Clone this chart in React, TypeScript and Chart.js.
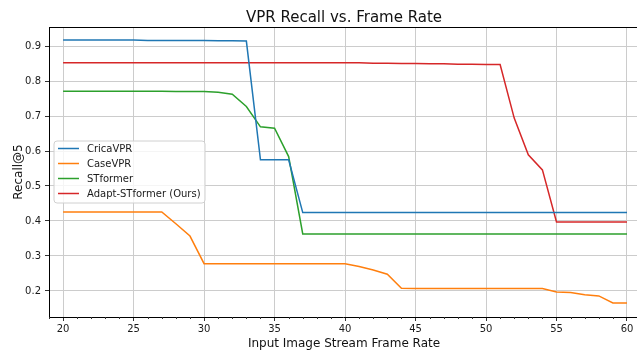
import React, { useEffect, useRef } from "react";
import { Chart, registerables } from "chart.js";

Chart.register(...registerables);

const frameRates = [
  20, 21, 22, 23, 24, 25, 26, 27, 28, 29, 30, 31, 32, 33, 34, 35, 36, 37, 38, 39, 40,
  41, 42, 43, 44, 45, 46, 47, 48, 49, 50, 51, 52, 53, 54, 55, 56, 57, 58, 59, 60,
];

const cricaVPR = [
  0.917, 0.917, 0.917, 0.917, 0.917, 0.917, 0.916, 0.916, 0.916, 0.916, 0.916, 0.915, 0.915, 0.914,
  0.575, 0.575, 0.575,
  0.424, 0.424, 0.424, 0.424, 0.424, 0.424, 0.424, 0.424, 0.424, 0.424, 0.424, 0.424,
  0.424, 0.424, 0.424, 0.424, 0.424, 0.424, 0.424, 0.424, 0.424, 0.424, 0.424, 0.424,
];

const caseVPR = [
  0.426, 0.426, 0.426, 0.426, 0.426, 0.426, 0.426, 0.426,
  0.392, 0.357,
  0.278, 0.278, 0.278, 0.278, 0.278, 0.278, 0.278, 0.278, 0.278, 0.278, 0.278,
  0.27, 0.26, 0.248, 0.208,
  0.207, 0.207, 0.207, 0.207, 0.207, 0.207, 0.207, 0.207, 0.207, 0.207,
  0.197, 0.196, 0.189, 0.186, 0.166, 0.166,
];

const stformer = [
  0.771, 0.771, 0.771, 0.771, 0.771, 0.771, 0.771, 0.771, 0.770, 0.770, 0.770,
  0.768, 0.762, 0.727, 0.669, 0.665, 0.584,
  0.363, 0.363, 0.363, 0.363, 0.363, 0.363, 0.363, 0.363, 0.363, 0.363, 0.363, 0.363,
  0.363, 0.363, 0.363, 0.363, 0.363, 0.363, 0.363, 0.363, 0.363, 0.363, 0.363, 0.363,
];

const adaptSTformer = [
  0.852, 0.852, 0.852, 0.852, 0.852, 0.852, 0.852, 0.852, 0.852, 0.852, 0.852,
  0.852, 0.852, 0.852, 0.852, 0.852, 0.852, 0.852, 0.852, 0.852, 0.852,
  0.852, 0.851, 0.851, 0.850, 0.850, 0.849, 0.849, 0.848, 0.848, 0.847, 0.847,
  0.694, 0.589, 0.546,
  0.397, 0.397, 0.397, 0.397, 0.397, 0.397,
];

const seriesNames = ["CricaVPR", "CaseVPR", "STformer", "Adapt-STformer (Ours)"];
const seriesColors = ["#1f77b4", "#ff7f0e", "#2ca02c", "#d62728"];
const seriesValues = [cricaVPR, caseVPR, stformer, adaptSTformer];

const xMajorTicks = [20, 25, 30, 35, 40, 45, 50, 55, 60];
const yTicks = [0.2, 0.3, 0.4, 0.5, 0.6, 0.7, 0.8, 0.9];

const titleText = "VPR Recall vs. Frame Rate";
const xLabel = "Input Image Stream Frame Rate";
const yLabel = "Recall@5";

const FONT = "'DejaVu Sans', sans-serif";

const decorPlugin = {
  id: "decor",
  afterDatasetsDraw(chart: any) {
    const ctx = chart.ctx;
    const area = chart.chartArea;
    const xs = chart.scales.x;
    ctx.save();
    // top spine
    ctx.strokeStyle = "#000";
    ctx.lineWidth = 1;
    ctx.beginPath();
    ctx.moveTo(area.left, area.top + 0.5);
    ctx.lineTo(area.right, area.top + 0.5);
    ctx.stroke();
    // minor ticks
    ctx.strokeStyle = "#333";
    for (let v = Math.ceil(xs.min); v <= xs.max; v++) {
      if (v % 5 === 0) continue;
      const px = Math.round(xs.getPixelForValue(v)) + 0.5;
      ctx.beginPath();
      ctx.moveTo(px, area.bottom);
      ctx.lineTo(px, area.bottom + 2);
      ctx.stroke();
    }
    // legend
    const bx = 54, by = 141, bw = 151, bh = 62, r = 3;
    ctx.fillStyle = "rgba(255,255,255,0.8)";
    ctx.strokeStyle = "#d0d0d0";
    ctx.beginPath();
    ctx.moveTo(bx + r, by);
    ctx.lineTo(bx + bw - r, by);
    ctx.quadraticCurveTo(bx + bw, by, bx + bw, by + r);
    ctx.lineTo(bx + bw, by + bh - r);
    ctx.quadraticCurveTo(bx + bw, by + bh, bx + bw - r, by + bh);
    ctx.lineTo(bx + r, by + bh);
    ctx.quadraticCurveTo(bx, by + bh, bx, by + bh - r);
    ctx.lineTo(bx, by + r);
    ctx.quadraticCurveTo(bx, by, bx + r, by);
    ctx.closePath();
    ctx.fill();
    ctx.stroke();
    ctx.font = `10px ${FONT}`;
    ctx.textBaseline = "middle";
    ctx.textAlign = "left";
    chart.data.datasets.forEach((ds: any, i: number) => {
      const cy = 148.5 + i * 15;
      ctx.strokeStyle = ds.borderColor;
      ctx.lineWidth = 1.5;
      ctx.beginPath();
      ctx.moveTo(58, cy);
      ctx.lineTo(79, cy);
      ctx.stroke();
      ctx.fillStyle = "#1a1a1a";
      ctx.fillText(ds.label, 87, cy + 0.5);
    });
    ctx.restore();
  },
  afterDraw(chart: any) {
    const ctx = chart.ctx;
    const area = chart.chartArea;
    ctx.save();
    ctx.fillStyle = "#111";
    ctx.textAlign = "center";
    ctx.textBaseline = "alphabetic";
    ctx.font = `15px ${FONT}`;
    ctx.fillText(titleText, 344, 21.5);
    ctx.font = `12px ${FONT}`;
    ctx.fillText(xLabel, 344, 347);
    ctx.translate(21.5, (area.top + area.bottom) / 2);
    ctx.rotate(-Math.PI / 2);
    ctx.fillText(yLabel, 0, 0);
    ctx.restore();
  },
};

export default function App() {
  const canvasRef = useRef<HTMLCanvasElement | null>(null);

  useEffect(() => {
    document.body.style.margin = "0";
    const canvas = canvasRef.current;
    if (!canvas) return;
    const chart = new Chart(canvas, {
      type: "line",
      data: {
        datasets: seriesNames.map((name, i) => ({
          label: name,
          data: frameRates.map((x, j) => ({ x, y: seriesValues[i][j] })),
          borderColor: seriesColors[i],
          backgroundColor: seriesColors[i],
          borderWidth: 1.5,
          pointRadius: 0,
          tension: 0,
          fill: false,
        })),
      },
      options: {
        responsive: false,
        animation: false,
        devicePixelRatio: 1,
        layout: { padding: { top: 27, right: 0, left: 0, bottom: 0 } },
        plugins: {
          legend: { display: false },
          title: { display: false },
          tooltip: { enabled: false },
        },
        scales: {
          x: {
            type: "linear",
            min: 19,
            max: 60.71,
            afterBuildTicks: (scale: any) => {
              scale.ticks = xMajorTicks.map((v) => ({ value: v }));
            },
            afterFit: (scale: any) => {
              scale.height = 33;
            },
            grid: {
              color: "#cccccc",
              lineWidth: 1,
              drawTicks: true,
              tickLength: 4,
              tickColor: "#333",
            },
            border: { color: "#000", width: 1 },
            ticks: {
              color: "#1a1a1a",
              font: { family: FONT, size: 10 },
              padding: 2,
              maxRotation: 0,
              autoSkip: false,
              callback: (v: any) => String(v),
            },
          },
          y: {
            type: "linear",
            min: 0.1257,
            max: 0.9543,
            afterBuildTicks: (scale: any) => {
              scale.ticks = yTicks.map((v) => ({ value: v }));
            },
            afterFit: (scale: any) => {
              scale.width = 49;
            },
            grid: {
              color: "#cccccc",
              lineWidth: 1,
              drawTicks: true,
              tickLength: 4,
              tickColor: "#333",
            },
            border: { color: "#000", width: 1 },
            ticks: {
              color: "#1a1a1a",
              font: { family: FONT, size: 10 },
              padding: 4,
              autoSkip: false,
              callback: (v: any) => Number(v).toFixed(1),
            },
          },
        },
      },
      plugins: [decorPlugin],
    });
    return () => chart.destroy();
  }, []);

  return (
    <div style={{ width: 637, height: 350, background: "#fff" }}>
      <canvas ref={canvasRef} width={637} height={350} style={{ display: "block" }} />
    </div>
  );
}
